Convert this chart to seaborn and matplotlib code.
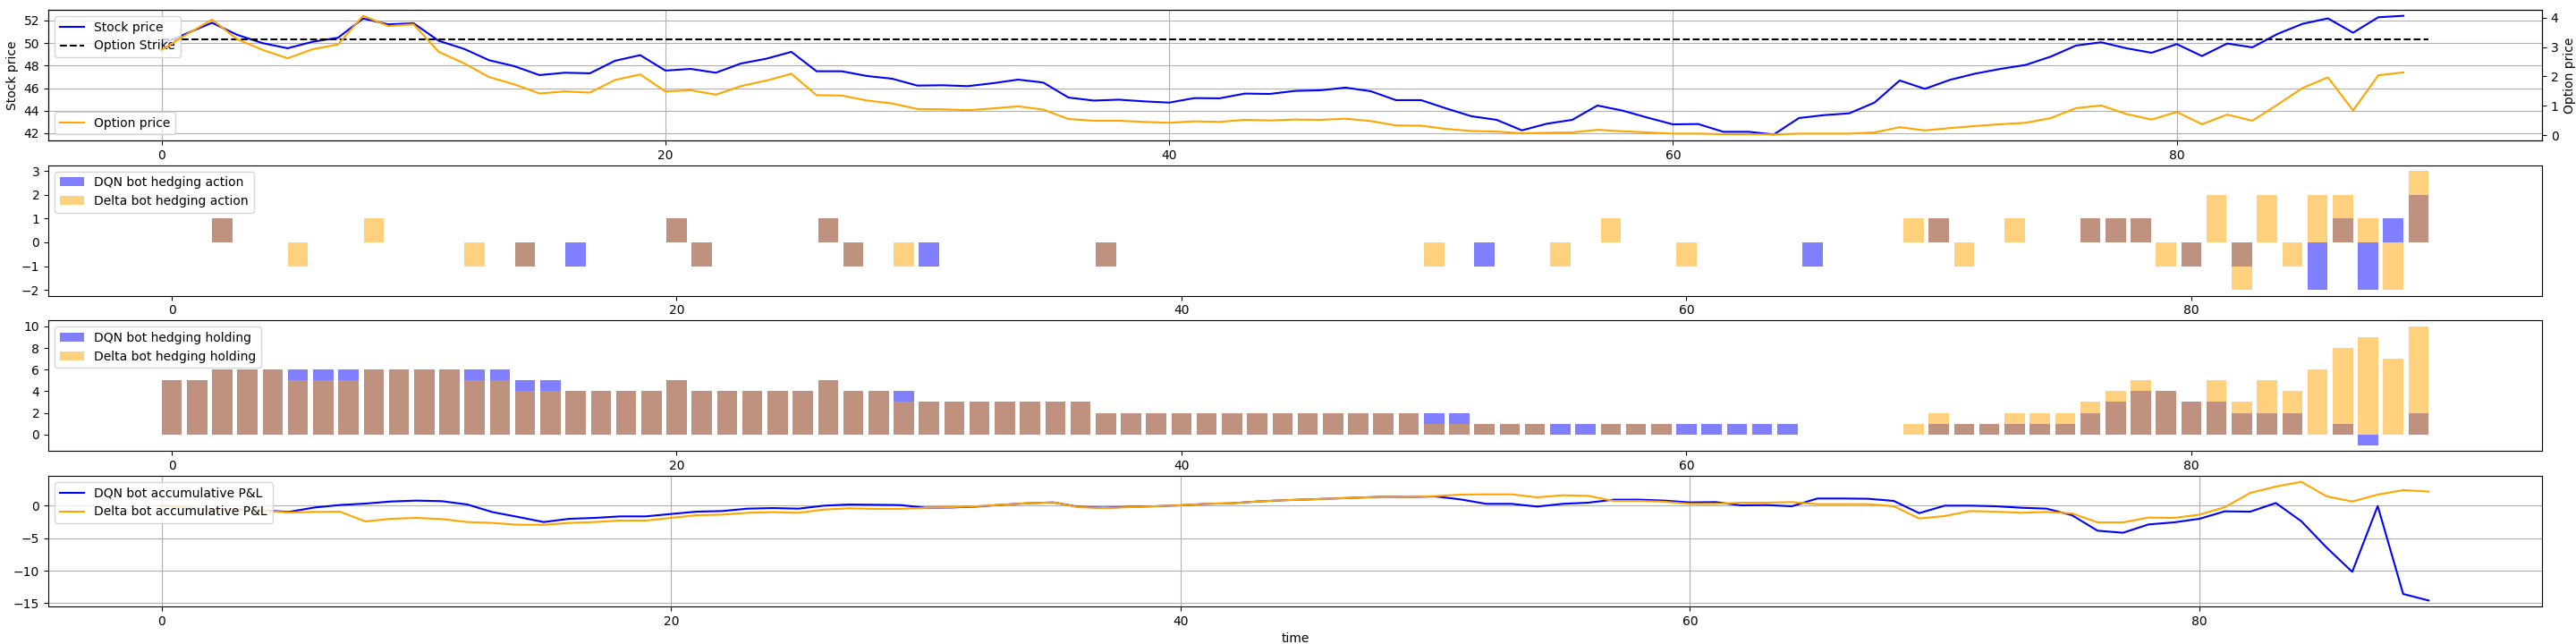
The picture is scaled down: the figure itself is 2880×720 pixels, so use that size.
import numpy as np
import matplotlib
matplotlib.use("Agg")
import matplotlib.pyplot as plt
from matplotlib.ticker import MultipleLocator
import seaborn as sns

# ---------------- data ----------------
stock_price = [49.91, 50.86, 51.80, 50.73, 50.00, 49.54, 50.12, 50.47, 52.18, 51.66,
               51.76, 50.20, 49.49, 48.48, 47.95, 47.16, 47.37, 47.32, 48.43, 48.93,
               47.56, 47.71, 47.37, 48.19, 48.61, 49.22, 47.50, 47.50, 47.08, 46.84,
               46.23, 46.26, 46.18, 46.44, 46.76, 46.50, 45.17, 44.90, 44.98, 44.83,
               44.72, 45.12, 45.10, 45.52, 45.49, 45.76, 45.81, 46.05, 45.73, 44.94,
               44.94, 44.20, 43.51, 43.19, 42.26, 42.85, 43.19, 44.46, 44.01, 43.38,
               42.79, 42.82, 42.13, 42.13, 41.89, 43.35, 43.61, 43.77, 44.72, 46.68,
               45.94, 46.74, 47.29, 47.71, 48.06, 48.80, 49.78, 50.07, 49.54, 49.14,
               49.91, 48.85, 49.96, 49.62, 50.81, 51.71, 52.19, 50.92, 52.29, 52.42]

option_price = [2.91, 3.44, 3.94, 3.27, 2.91, 2.62, 2.93, 3.09, 4.07, 3.72,
                3.78, 2.84, 2.45, 1.98, 1.73, 1.42, 1.49, 1.45, 1.88, 2.07,
                1.49, 1.53, 1.38, 1.67, 1.86, 2.09, 1.36, 1.35, 1.18, 1.08,
                0.89, 0.88, 0.85, 0.91, 0.98, 0.87, 0.55, 0.49, 0.49, 0.45,
                0.42, 0.47, 0.45, 0.52, 0.50, 0.53, 0.52, 0.56, 0.48, 0.33,
                0.32, 0.21, 0.14, 0.12, 0.06, 0.08, 0.09, 0.18, 0.13, 0.09,
                0.05, 0.05, 0.03, 0.03, 0.02, 0.05, 0.05, 0.05, 0.09, 0.27,
                0.16, 0.24, 0.31, 0.37, 0.42, 0.58, 0.92, 1.01, 0.72, 0.53,
                0.79, 0.37, 0.70, 0.49, 1.04, 1.61, 1.97, 0.84, 2.04, 2.14]

strike_price = 50.3
strike_steps = 91

dqn_action = [0, 0, 1, 0, 0, 0, 0, 0, 0, 0,
              0, 0, 0, 0, -1, 0, -1, 0, 0, 0,
              1, -1, 0, 0, 0, 0, 1, -1, 0, 0,
              -1, 0, 0, 0, 0, 0, 0, -1, 0, 0,
              0, 0, 0, 0, 0, 0, 0, 0, 0, 0,
              0, 0, -1, 0, 0, 0, 0, 0, 0, 0,
              0, 0, 0, 0, 0, -1, 0, 0, 0, 0,
              1, 0, 0, 0, 0, 0, 1, 1, 1, 0,
              -1, 0, -1, 0, 0, -2, 1, -2, 1, 2]

delta_action = [0, 0, 1, 0, 0, -1, 0, 0, 1, 0,
                0, 0, -1, 0, -1, 0, 0, 0, 0, 0,
                1, -1, 0, 0, 0, 0, 1, -1, 0, -1,
                0, 0, 0, 0, 0, 0, 0, -1, 0, 0,
                0, 0, 0, 0, 0, 0, 0, 0, 0, 0,
                -1, 0, 0, 0, 0, -1, 0, 1, 0, 0,
                -1, 0, 0, 0, 0, 0, 0, 0, 0, 1,
                1, -1, 0, 1, 0, 0, 1, 1, 1, -1,
                -1, 2, -2, 2, -1, 2, 2, 1, -2, 3]

dqn_holding = [5, 5, 6, 6, 6, 6, 6, 6, 6, 6,
               6, 6, 6, 6, 5, 5, 4, 4, 4, 4,
               5, 4, 4, 4, 4, 4, 5, 4, 4, 4,
               3, 3, 3, 3, 3, 3, 3, 2, 2, 2,
               2, 2, 2, 2, 2, 2, 2, 2, 2, 2,
               2, 2, 1, 1, 1, 1, 1, 1, 1, 1,
               1, 1, 1, 1, 1, 0, 0, 0, 0, 0,
               1, 1, 1, 1, 1, 1, 2, 3, 4, 4,
               3, 3, 2, 2, 2, 0, 1, -1, 0, 2]

delta_holding = [5, 5, 6, 6, 6, 5, 5, 5, 6, 6,
                 6, 6, 5, 5, 4, 4, 4, 4, 4, 4,
                 5, 4, 4, 4, 4, 4, 5, 4, 4, 3,
                 3, 3, 3, 3, 3, 3, 3, 2, 2, 2,
                 2, 2, 2, 2, 2, 2, 2, 2, 2, 2,
                 1, 1, 1, 1, 1, 0, 0, 1, 1, 1,
                 0, 0, 0, 0, 0, 0, 0, 0, 0, 1,
                 2, 1, 1, 2, 2, 2, 3, 4, 5, 4,
                 3, 5, 3, 5, 4, 6, 8, 9, 7, 10]

dqn_pnl = [0.00, -0.30, -0.64, -0.60, -0.73, -0.96, -0.28, 0.10, 0.32, 0.64,
           0.78, 0.69, 0.18, -1.00, -1.74, -2.52, -2.02, -1.88, -1.65, -1.65,
           -1.28, -0.92, -0.83, -0.46, -0.37, -0.46, 0.00, 0.18, 0.14, 0.09,
           -0.32, -0.28, -0.14, 0.14, 0.37, 0.50, -0.18, -0.32, -0.18, -0.09,
           0.05, 0.28, 0.37, 0.64, 0.83, 0.96, 1.10, 1.24, 1.38, 1.33,
           1.42, 0.96, 0.28, 0.28, -0.14, 0.28, 0.46, 0.92, 0.92, 0.78,
           0.50, 0.55, 0.05, 0.09, -0.09, 1.10, 1.10, 1.06, 0.73, -1.15,
           0.00, 0.00, -0.09, -0.32, -0.46, -1.47, -3.85, -4.17, -2.89, -2.57,
           -2.02, -0.87, -0.92, 0.41, -2.39, -6.47, -10.18, -0.05, -13.58, -14.59]

delta_pnl = [0.00, -0.30, -0.69, -0.60, -0.78, -1.05, -0.96, -0.92, -2.43, -2.02,
             -1.88, -2.06, -2.52, -2.66, -2.94, -2.94, -2.66, -2.52, -2.29, -2.29,
             -1.88, -1.47, -1.38, -1.10, -1.00, -1.10, -0.60, -0.41, -0.50, -0.50,
             -0.32, -0.23, -0.09, 0.14, 0.37, 0.50, -0.23, -0.37, -0.23, -0.09,
             0.05, 0.28, 0.37, 0.64, 0.83, 0.96, 1.10, 1.24, 1.38, 1.33,
             1.47, 1.70, 1.74, 1.74, 1.28, 1.60, 1.51, 0.73, 0.73, 0.60,
             0.28, 0.28, 0.46, 0.46, 0.55, 0.23, 0.23, 0.23, -0.09, -1.97,
             -1.60, -0.83, -0.92, -1.10, -0.96, -1.19, -2.57, -2.57, -1.83, -1.88,
             -1.38, -0.23, 1.97, 2.94, 3.67, 1.42, 0.64, 1.70, 2.39, 2.16]

t = np.arange(len(stock_price))
t_strike = np.arange(strike_steps)

# ---------------- figure ----------------
fig = plt.figure(figsize=(28.8, 7.2), dpi=100)
axes = fig.subplots(4, 1)
fig.subplots_adjust(left=0.01875, right=0.9868, top=0.9847, bottom=0.0583, hspace=0.1895)

# Panel 1: stock / strike / option price
ax1 = axes[0]
sns.lineplot(x=t, y=stock_price, color="blue", label="Stock price", ax=ax1)
sns.lineplot(x=t_strike, y=[strike_price] * strike_steps, color="k", linestyle="--",
             label="Option Strike", ax=ax1)
ax1.set_ylabel("Stock price")
ax1.yaxis.set_major_locator(MultipleLocator(2))
ax1.grid(True)
ax1.legend(loc="upper left")
ax1.set_xlabel("")
ax1b = ax1.twinx()
sns.lineplot(x=t, y=option_price, color="orange", label="Option price", ax=ax1b)
ax1b.set_ylabel("Option price")
ax1b.yaxis.set_major_locator(MultipleLocator(1))
ax1b.legend(loc="lower left")

# Panel 2: actions
ax2 = axes[1]
ax2.bar(t, dqn_action, color="blue", alpha=0.5, label="DQN bot hedging action")
ax2.bar(t, delta_action, color="orange", alpha=0.5, label="Delta bot hedging action")
ax2.yaxis.set_major_locator(MultipleLocator(1))
ax2.legend(loc="upper left")

# Panel 3: holdings
ax3 = axes[2]
ax3.bar(t, dqn_holding, color="blue", alpha=0.5, label="DQN bot hedging holding")
ax3.bar(t, delta_holding, color="orange", alpha=0.5, label="Delta bot hedging holding")
ax3.yaxis.set_major_locator(MultipleLocator(2))
ax3.legend(loc="upper left")

# Panel 4: P&L
ax4 = axes[3]
sns.lineplot(x=t, y=dqn_pnl, color="blue", label="DQN bot accumulative P&L", ax=ax4)
sns.lineplot(x=t, y=delta_pnl, color="orange", label="Delta bot accumulative P&L", ax=ax4)
ax4.yaxis.set_major_locator(MultipleLocator(5))
ax4.grid(True)
ax4.legend(loc="upper left")
ax4.set_xlabel("time")

fig.savefig("out.png", dpi=100)
